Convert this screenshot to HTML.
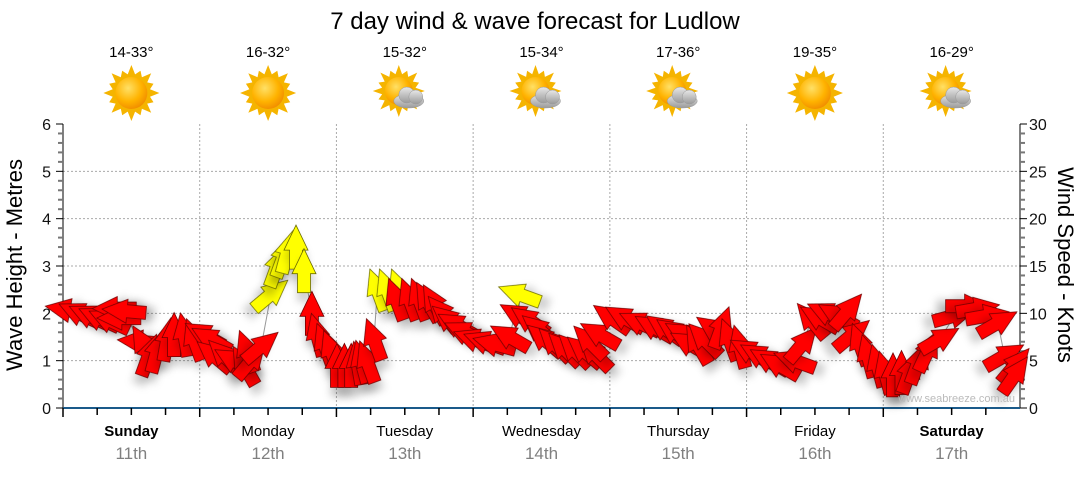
<!DOCTYPE html>
<html><head><meta charset="utf-8"><style>
body{margin:0;background:#fff;width:1080px;height:475px;overflow:hidden;font-family:"Liberation Sans",sans-serif}
svg text{font-family:"Liberation Sans",sans-serif}
</style></head><body>
<svg id="c" width="1080" height="475" viewBox="0 0 1080 475">
<defs>
<filter id="sh" x="-50%" y="-50%" width="200%" height="200%"><feDropShadow dx="0" dy="9" stdDeviation="4" flood-color="#000" flood-opacity="0.18"/></filter>
<radialGradient id="sun" cx="0.4" cy="0.35" r="0.7"><stop offset="0" stop-color="#ffe066"/><stop offset="0.6" stop-color="#ffb300"/><stop offset="1" stop-color="#f08a00"/></radialGradient>
<linearGradient id="cl" x1="0" y1="0" x2="0" y2="1"><stop offset="0" stop-color="#e8e8e8"/><stop offset="1" stop-color="#9a9a9a"/></linearGradient>
</defs>
<text x="535" y="29" text-anchor="middle" font-size="24" fill="#000">7 day wind &amp; wave forecast for Ludlow</text>
<g id="topg"></g>
<g id="grid"></g>
<g id="axes"></g>
<g id="marks"></g>
<text x="1015" y="402" text-anchor="end" font-size="11" fill="#bbb">www.seabreeze.com.au</text>
<text transform="translate(22,265) rotate(-90)" text-anchor="middle" font-size="22" fill="#000">Wave Height - Metres</text>
<text transform="translate(1058,265) rotate(90)" text-anchor="middle" font-size="22" fill="#000">Wind Speed - Knots</text>
</svg>
<script>
const dayNames=["Sunday","Monday","Tuesday","Wednesday","Thursday","Friday","Saturday"];
const dayDates=["11th","12th","13th","14th","15th","16th","17th"];
const tempRanges=["14-33°","16-32°","15-32°","15-34°","17-36°","19-35°","16-29°"];
const iconCloudy=[0,0,1,1,1,0,1];
const leftTicks=[0,1,2,3,4,5,6];
const rightTicks=[0,5,10,15,20,25,30];
const hours=[0.7,2.8,4.6,6.3,8.1,9.0,9.8,10.7,13.4,14.2,15.1,16.5,18.3,19.5,21.3,23.0,24.8,26.0,26.5,28.3,30.0,31.8,32.3,33.0,34.8,36.5,37.6,38.7,39.4,40.9,42.3,43.7,44.6,45.9,47.1,48.1,49.4,50.6,51.7,52.4,53.4,54.6,55.2,56.9,59.0,58.5,60.8,62.5,64.0,65.2,66.6,67.8,69.2,70.5,72.2,74.0,75.7,78.4,80.1,80.1,81.9,83.6,84.5,86.3,88.0,89.8,91.5,93.3,92.4,94.2,96.3,98.6,101.2,103.8,105.6,107.4,109.1,110.0,111.4,112.6,114.4,115.6,117.0,118.8,120.5,122.3,124.0,125.8,128.4,129.8,131.4,132.8,134.2,136.0,137.7,138.6,139.9,141.3,143.0,144.3,145.7,147.2,148.6,150.1,151.8,153.9,156.5,158.8,160.6,162.3,164.1,165.3,167.1,167.1];
const heights=[2.07,2.0,1.95,1.9,1.85,2.1,1.9,2.05,1.4,1.33,1.12,1.2,1.45,1.55,1.55,1.45,1.55,1.45,1.1,1.1,1.0,0.9,1.2,1.0,1.3,2.4,3.0,3.2,3.3,3.4,2.9,2.0,1.55,1.35,1.2,0.9,0.9,0.9,0.95,0.98,0.98,1.45,2.5,2.5,2.5,2.3,2.3,2.3,2.25,2.2,2.0,1.85,1.75,1.6,1.45,1.4,1.35,1.5,2.4,1.95,1.85,1.65,1.45,1.35,1.25,1.22,1.2,1.15,1.4,1.55,1.9,1.9,1.8,1.7,1.68,1.6,1.55,1.35,1.35,1.45,1.65,1.7,1.45,1.3,1.2,1.1,1.0,0.9,1.0,1.35,1.85,1.9,2.0,1.95,2.05,1.55,1.35,1.1,0.9,0.75,0.7,0.75,0.75,0.95,1.2,1.45,1.95,2.15,2.1,1.95,1.8,1.1,0.9,0.7];
const directions=[280,295,295,295,295,270,270,275,275,330,20,15,10,0,350,340,300,300,310,315,300,330,340,40,50,50,20,20,15,0,0,0,345,340,340,0,0,0,350,345,340,340,340,340,340,340,340,340,330,330,320,310,300,295,290,290,285,300,290,300,305,310,310,315,315,315,310,315,315,300,305,300,295,300,305,305,300,300,330,315,305,20,340,345,300,300,300,300,290,40,320,300,295,300,40,50,340,345,345,345,0,0,20,20,25,60,75,90,80,80,60,60,40,35,20];
const colors=["r","r","r","r","r","r","r","r","r","r","r","r","r","r","r","r","r","r","r","r","r","r","r","r","r","y","y","y","y","y","y","r","r","r","r","r","r","r","r","r","r","r","y","y","y","r","r","r","r","r","r","r","r","r","r","r","r","r","y","r","r","r","r","r","r","r","r","r","r","r","r","r","r","r","r","r","r","r","r","r","r","r","r","r","r","r","r","r","r","r","r","r","r","r","r","r","r","r","r","r","r","r","r","r","r","r","r","r","r","r","r","r","r","r"];

const NS="http://www.w3.org/2000/svg";
const X0=63,X1=1020,Y0=408,Y1=124;
const xh=h=>X0+h/168*(X1-X0);
const ym=v=>Y0-v/6*(Y0-Y1);
const dayW=(X1-X0)/7;
function mk(tag,attrs,parent){const e=document.createElementNS(NS,tag);for(const k in attrs)e.setAttribute(k,attrs[k]);parent.appendChild(e);return e;}
const topG=document.getElementById('topg'),gridG=document.getElementById('grid'),axesG=document.getElementById('axes'),marksG=document.getElementById('marks');

dayNames.forEach((d,i)=>{
  const cx=X0+dayW*(i+0.5);
  const t=mk('text',{x:cx,y:57,'text-anchor':'middle','font-size':15,fill:'#000'},topG);t.textContent=tempRanges[i];
  
  
  const g=mk('g',{},topG);
  
  
  const sx=iconCloudy[i]?cx-6:cx, sy=iconCloudy[i]?91:93, r=iconCloudy[i]?14:16;
  let pts=[];
  for(let k=0;k<32;k++){const a=k*Math.PI/16;const rr=k%2?r+3:(k%4==0?r+12:r+8);pts.push((sx+rr*Math.cos(a)).toFixed(1)+','+(sy+rr*Math.sin(a)).toFixed(1));}
  mk('polygon',{points:pts.join(' '),fill:'#f5b400'},g);
  mk('circle',{cx:sx,cy:sy,r:r,fill:'url(#sun)'},g);
  if(iconCloudy[i]){
    const c=mk('g',{fill:'url(#cl)',stroke:'#999','stroke-width':0.5},g);
    mk('ellipse',{cx:cx+4,cy:101,rx:15,ry:7},c);
    mk('circle',{cx:cx+2,cy:95,r:8},c);
    mk('circle',{cx:cx+11,cy:97,r:7},c);
  }
  const dn=mk('text',{x:cx,y:436,'text-anchor':'middle','font-size':15,fill:'#000','font-weight':(i==0||i==6)?'bold':'normal'},topG);dn.textContent=d;
  
  
  const dd=mk('text',{x:cx,y:459,'text-anchor':'middle','font-size':17,fill:'#808080'},topG);dd.textContent=dayDates[i];
  
  
});

leftTicks.forEach(v=>{ if(v>0&&v<6){const l=mk('line',{x1:X0,x2:X1,y1:ym(v),y2:ym(v),stroke:'#aaa','stroke-dasharray':'2,2'},gridG);
  
  }});
for(let d=1;d<7;d++){const l=mk('line',{x1:X0+d*dayW,x2:X0+d*dayW,y1:Y1,y2:Y0,stroke:'#aaa','stroke-dasharray':'2,2'},gridG);
  
  }

mk('line',{x1:X0,x2:X0,y1:Y1,y2:Y0,stroke:'#000'},axesG);
mk('line',{x1:X1,x2:X1,y1:Y1,y2:Y0,stroke:'#000'},axesG);
mk('line',{x1:X0,x2:X1,y1:Y0,y2:Y0,stroke:'#1a5a8a','stroke-width':2},axesG);
for(let k=0;k<=30;k++){const y=ym(k*0.2),maj=k%5==0;
  mk('line',{x1:X0-(maj?7:5),x2:X0,y1:y,y2:y,stroke:maj?'#000':'#777','stroke-width':maj?1:2},axesG);
  mk('line',{x1:X1,x2:X1+(maj?7:5),y1:y,y2:y,stroke:maj?'#000':'#777','stroke-width':maj?1:2},axesG);}
leftTicks.forEach(v=>{const t=mk('text',{x:X0-12,y:ym(v)+6,'text-anchor':'end','font-size':16,fill:'#111'},axesG);t.textContent=v;
  
  });
rightTicks.forEach(v=>{const t=mk('text',{x:X1+9,y:ym(v/5)+6,'text-anchor':'start','font-size':16,fill:'#111'},axesG);t.textContent=v;
  
  });
for(let h=0;h<168;h+=6){mk('line',{x1:xh(h),x2:xh(h),y1:Y0,y2:Y0+(h%24==0?9:7),stroke:'#000','stroke-width':1.5},axesG);}

const N=Math.min(hours.length,heights.length,directions.length,colors.length);
const lp=[];
for(let i=0;i<N;i++)lp.push(xh(hours[i]).toFixed(1)+','+ym(heights[i]).toFixed(1));
const pl=mk('polyline',{points:lp.join(' '),fill:'none',stroke:'#999','stroke-width':1},marksG);



const shape="0,-22 12,3 6.5,3 6.5,22 -6.5,22 -6.5,3 -12,3";
for(let i=0;i<N;i++){
  const y=colors[i]=='y';
  const p=mk('polygon',{points:shape,transform:`translate(${xh(hours[i]).toFixed(1)},${ym(heights[i]).toFixed(1)}) rotate(${directions[i]})`,
    fill:y?'#ffff00':'#ff0000',stroke:y?'#6b6b00':'#700000','stroke-width':0.8,filter:'url(#sh)'},marksG);
  
  
}
</script>
</body></html>
